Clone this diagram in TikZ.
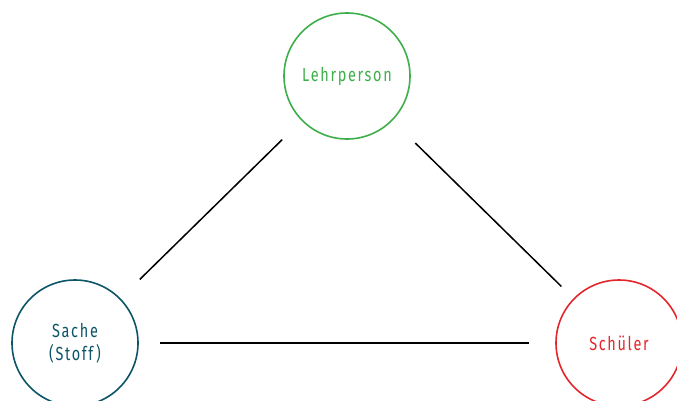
\documentclass[tikz,border=0pt]{standalone}
\usepackage{fontspec}
\setmainfont{Fira Sans}[FakeStretch=0.76, LetterSpace=9]
\usepackage{xcolor}
\usetikzlibrary{shapes,arrows,positioning}
\definecolor{lehrgreen}{HTML}{3DAE49}
\definecolor{sachteal}{HTML}{0B5566}
\definecolor{schuelred}{HTML}{E3262B}
\tikzstyle{pole} = [circle, draw, line width=1.6pt, minimum size=126pt, inner sep=0pt, align=center, font=\fontsize{19}{23}\selectfont]
\tikzstyle{link} = [line width=1.5pt, black]

\begin{document}
\begin{tikzpicture}[x=1pt, y=-1pt]
        \useasboundingbox (0,0) rectangle (677,400);
        \node[pole, lehrgreen] (lehr) at (347,76) {Lehrperson};
        \node[pole, sachteal] (sache) at (75,343) {Sache\\(Stoff)};
        \node[pole, schuelred] (schueler) at (619,343) {Schüler};
        
        \draw[link, shorten <=27pt, shorten >=27pt] (lehr) -- (sache);
        \draw[link, shorten <=32pt, shorten >=17pt] (lehr) -- (schueler);
        \draw[link, shorten <=21pt, shorten >=26pt] (sache) -- (schueler);
    \end{tikzpicture}
\end{document}
